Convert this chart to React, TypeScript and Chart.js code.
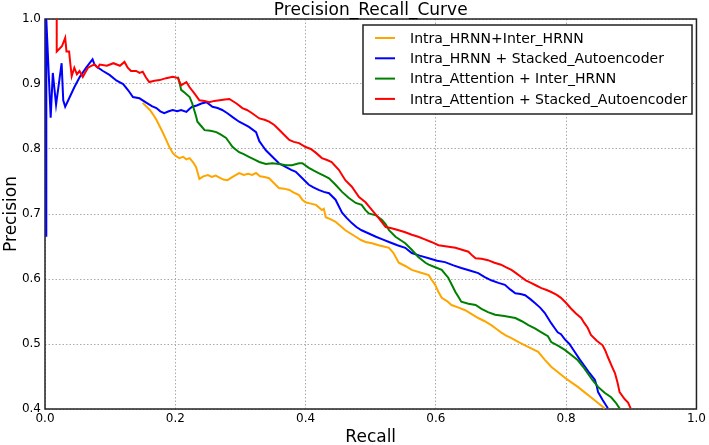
import React, { useEffect, useRef } from "react";
import { Chart, registerables } from "chart.js";

Chart.register(...registerables);

const seriesLabels = [
  "Intra_HRNN+Inter_HRNN",
  "Intra_HRNN + Stacked_Autoencoder",
  "Intra_Attention + Inter_HRNN",
  "Intra_Attention + Stacked_Autoencoder",
];
const seriesColors = ["#FFA500", "#0000FF", "#008000", "#FF0000"];

const xTicks = [0.0, 0.2, 0.4, 0.6, 0.8, 1.0];
const yTicks = [0.4, 0.5, 0.6, 0.7, 0.8, 0.9, 1.0];

// Intra_HRNN+Inter_HRNN (orange)
const recallOrange = [0.15,0.155,0.161,0.166,0.171,0.176,0.181,0.186,0.191,0.196,0.2,0.206,0.212,0.217,0.222,0.227,0.232,0.237,0.243,0.25,0.256,0.262,0.268,0.274,0.28,0.288,0.298,0.305,0.312,0.318,0.324,0.33,0.337,0.344,0.352,0.359,0.367,0.375,0.382,0.39,0.395,0.4,0.408,0.416,0.425,0.428,0.431,0.438,0.446,0.454,0.461,0.469,0.477,0.485,0.492,0.502,0.512,0.52,0.528,0.535,0.543,0.553,0.563,0.576,0.589,0.594,0.599,0.604,0.609,0.617,0.624,0.635,0.645,0.655,0.665,0.675,0.685,0.693,0.7,0.708,0.716,0.727,0.737,0.747,0.757,0.767,0.777,0.788,0.798,0.808,0.818,0.828,0.838,0.848,0.859];
const precisionOrange = [0.871,0.866,0.86,0.853,0.845,0.835,0.825,0.814,0.803,0.794,0.79,0.786,0.788,0.784,0.786,0.78,0.772,0.754,0.758,0.76,0.757,0.759,0.756,0.753,0.752,0.757,0.763,0.76,0.762,0.76,0.763,0.758,0.757,0.755,0.747,0.74,0.739,0.737,0.733,0.729,0.722,0.718,0.716,0.714,0.706,0.708,0.695,0.692,0.688,0.681,0.675,0.67,0.665,0.66,0.657,0.655,0.652,0.65,0.648,0.64,0.625,0.62,0.614,0.61,0.606,0.598,0.591,0.58,0.571,0.566,0.56,0.556,0.552,0.546,0.54,0.535,0.529,0.523,0.518,0.513,0.509,0.503,0.498,0.493,0.488,0.476,0.465,0.456,0.448,0.441,0.434,0.426,0.418,0.41,0.401];

// Intra_HRNN + Stacked_Autoencoder (blue)
const recallBlue = [0.002,0.002,0.0087,0.012,0.017,0.0255,0.028,0.031,0.038,0.045,0.0535,0.063,0.073,0.076,0.079,0.089,0.099,0.11,0.12,0.128,0.135,0.145,0.156,0.164,0.171,0.177,0.183,0.19,0.196,0.203,0.209,0.217,0.222,0.226,0.233,0.24,0.248,0.257,0.265,0.272,0.28,0.288,0.298,0.306,0.313,0.324,0.329,0.334,0.339,0.349,0.359,0.37,0.378,0.385,0.395,0.405,0.412,0.42,0.428,0.436,0.446,0.451,0.456,0.463,0.471,0.478,0.486,0.497,0.508,0.518,0.528,0.541,0.553,0.563,0.575,0.589,0.602,0.614,0.627,0.639,0.652,0.665,0.675,0.685,0.696,0.706,0.714,0.722,0.73,0.737,0.745,0.752,0.76,0.767,0.772,0.777,0.782,0.787,0.792,0.798,0.805,0.813,0.821,0.829,0.836,0.844,0.847,0.849,0.856,0.864];
const precisionBlue = [0.665,1.0,0.848,0.917,0.868,0.932,0.875,0.865,0.88,0.895,0.911,0.925,0.938,0.93,0.927,0.92,0.914,0.905,0.9,0.89,0.88,0.878,0.871,0.866,0.863,0.858,0.855,0.858,0.86,0.858,0.86,0.857,0.862,0.865,0.867,0.87,0.872,0.865,0.863,0.86,0.855,0.849,0.842,0.838,0.834,0.826,0.812,0.805,0.798,0.788,0.778,0.772,0.768,0.765,0.755,0.745,0.741,0.737,0.734,0.732,0.722,0.712,0.702,0.694,0.686,0.68,0.675,0.67,0.665,0.661,0.657,0.652,0.648,0.64,0.636,0.632,0.628,0.626,0.621,0.617,0.613,0.609,0.603,0.598,0.594,0.591,0.584,0.578,0.577,0.575,0.569,0.563,0.556,0.548,0.54,0.532,0.525,0.518,0.515,0.507,0.5,0.488,0.476,0.465,0.455,0.445,0.435,0.426,0.414,0.401];

// Intra_Attention + Inter_HRNN (green)
const recallGreen = [0.204,0.207,0.209,0.215,0.222,0.226,0.229,0.232,0.234,0.24,0.245,0.254,0.263,0.27,0.278,0.283,0.288,0.298,0.305,0.313,0.321,0.329,0.339,0.349,0.359,0.37,0.379,0.39,0.395,0.405,0.412,0.42,0.428,0.436,0.446,0.456,0.466,0.477,0.486,0.492,0.497,0.508,0.517,0.523,0.528,0.538,0.553,0.563,0.573,0.584,0.589,0.599,0.609,0.614,0.619,0.625,0.63,0.635,0.639,0.65,0.661,0.67,0.68,0.691,0.705,0.722,0.732,0.742,0.752,0.762,0.772,0.777,0.788,0.798,0.808,0.818,0.826,0.833,0.84,0.849,0.859,0.869,0.876,0.882];
const precisionGreen = [0.911,0.9,0.891,0.886,0.88,0.87,0.86,0.85,0.842,0.835,0.829,0.828,0.826,0.822,0.817,0.81,0.803,0.795,0.792,0.788,0.784,0.78,0.777,0.778,0.777,0.775,0.775,0.778,0.778,0.771,0.767,0.763,0.759,0.755,0.745,0.734,0.725,0.717,0.714,0.706,0.701,0.698,0.691,0.684,0.675,0.665,0.655,0.645,0.634,0.625,0.622,0.618,0.614,0.608,0.602,0.59,0.58,0.572,0.565,0.562,0.56,0.554,0.549,0.545,0.543,0.54,0.535,0.529,0.524,0.518,0.512,0.503,0.497,0.491,0.483,0.475,0.465,0.455,0.445,0.434,0.425,0.418,0.41,0.401];

// Intra_Attention + Stacked_Autoencoder (red)
const recallRed = [0.018,0.018,0.026,0.031,0.033,0.037,0.039,0.041,0.045,0.049,0.053,0.058,0.062,0.066,0.071,0.076,0.081,0.084,0.095,0.105,0.115,0.122,0.127,0.132,0.14,0.145,0.15,0.155,0.16,0.168,0.176,0.186,0.196,0.204,0.209,0.217,0.222,0.229,0.237,0.245,0.252,0.26,0.268,0.276,0.283,0.294,0.303,0.31,0.318,0.329,0.337,0.344,0.352,0.359,0.367,0.375,0.382,0.39,0.4,0.408,0.416,0.425,0.433,0.44,0.451,0.461,0.471,0.482,0.492,0.502,0.512,0.523,0.532,0.543,0.553,0.563,0.573,0.583,0.593,0.604,0.617,0.63,0.64,0.65,0.656,0.661,0.67,0.68,0.69,0.7,0.708,0.716,0.723,0.731,0.738,0.746,0.754,0.762,0.77,0.777,0.785,0.792,0.8,0.807,0.815,0.823,0.828,0.833,0.838,0.847,0.856,0.86,0.864,0.87,0.875,0.879,0.882,0.89,0.895,0.899];
const precisionRed = [1.0,0.95,0.958,0.971,0.95,0.95,0.93,0.912,0.925,0.915,0.92,0.911,0.918,0.925,0.928,0.93,0.925,0.93,0.928,0.932,0.928,0.934,0.925,0.92,0.92,0.917,0.919,0.91,0.903,0.905,0.906,0.909,0.911,0.909,0.898,0.903,0.895,0.886,0.875,0.874,0.872,0.874,0.875,0.876,0.877,0.87,0.863,0.86,0.855,0.847,0.845,0.842,0.837,0.83,0.822,0.814,0.811,0.809,0.803,0.8,0.794,0.786,0.783,0.78,0.768,0.752,0.742,0.726,0.718,0.706,0.694,0.68,0.678,0.675,0.672,0.668,0.665,0.661,0.657,0.652,0.65,0.648,0.645,0.642,0.636,0.632,0.631,0.629,0.625,0.622,0.618,0.614,0.609,0.603,0.598,0.594,0.59,0.586,0.583,0.58,0.576,0.571,0.563,0.555,0.547,0.54,0.532,0.525,0.514,0.505,0.498,0.49,0.48,0.466,0.455,0.44,0.426,0.415,0.41,0.401];

const recalls = [recallOrange, recallBlue, recallGreen, recallRed];
const precisions = [precisionOrange, precisionBlue, precisionGreen, precisionRed];

const FONT = "'DejaVu Sans', sans-serif";

const decorPlugin = {
  id: "decor",
  beforeDatasetsDraw(chart: any) {
    const { ctx, chartArea: a } = chart;
    ctx.save();
    ctx.strokeStyle = "#222";
    ctx.lineWidth = 1.5;
    ctx.strokeRect(a.left, a.top, a.right - a.left, a.bottom - a.top);
    ctx.restore();
  },
  afterDraw(chart: any) {
    const { ctx, chartArea: a } = chart;
    ctx.save();
    ctx.fillStyle = "#000";
    ctx.font = `17px ${FONT}`;
    ctx.textAlign = "center";
    ctx.textBaseline = "alphabetic";
    ctx.fillText("Precision_Recall_Curve", (a.left + a.right) / 2, 15);
    ctx.fillText("Recall", (a.left + a.right) / 2, 442);
    ctx.save();
    ctx.translate(15.5, (a.top + a.bottom) / 2);
    ctx.rotate(-Math.PI / 2);
    ctx.fillText("Precision", 0, 0);
    ctx.restore();
    const lx = 363, ly = 25, lw = 329, lh = 89;
    ctx.fillStyle = "#fff";
    ctx.fillRect(lx, ly, lw, lh);
    ctx.strokeStyle = "#222";
    ctx.lineWidth = 1.5;
    ctx.strokeRect(lx, ly, lw, lh);
    ctx.font = `14px ${FONT}`;
    ctx.textAlign = "left";
    ctx.textBaseline = "middle";
    seriesLabels.forEach((lab, i) => {
      const y = 38 + i * 20.3;
      ctx.strokeStyle = seriesColors[i];
      ctx.lineWidth = 2;
      ctx.beginPath();
      ctx.moveTo(375, y);
      ctx.lineTo(395, y);
      ctx.stroke();
      ctx.fillStyle = "#000";
      ctx.fillText(lab, 410, y + 1);
    });
    ctx.restore();
  },
};

export default function App() {
  const ref = useRef<HTMLCanvasElement | null>(null);
  useEffect(() => {
    if (!ref.current) return;
    const datasets = seriesLabels.map((label, i) => ({
      label,
      data: recalls[i].map((x, j) => ({ x, y: precisions[i][j] })),
      borderColor: seriesColors[i],
      backgroundColor: seriesColors[i],
      borderWidth: 2,
      pointRadius: 0,
      fill: false,
      tension: 0,
      order: 4 - i,
    }));
    const chart = new Chart(ref.current, {
      type: "line",
      data: { datasets },
      plugins: [decorPlugin],
      options: {
        animation: false,
        responsive: false,
        devicePixelRatio: 1,
        parsing: false,
        layout: { padding: { top: 19, right: 10, left: 0, bottom: 0 } },
        plugins: { legend: { display: false }, tooltip: { enabled: false }, title: { display: false } },
        scales: {
          x: {
            type: "linear",
            min: 0,
            max: 1,
            afterBuildTicks: (s: any) => { s.ticks = xTicks.map((v) => ({ value: v })); },
            afterFit: (s: any) => { s.height = 36; },
            ticks: {
              font: { family: FONT, size: 12 },
              color: "#000",
              padding: 3,
              maxRotation: 0,
              autoSkip: false,
              callback: (v: any) => Number(v).toFixed(1),
            },
            grid: { color: "#aaa", lineWidth: 1, drawTicks: false },
            border: { display: false, dash: [1.5, 2] },
          },
          y: {
            type: "linear",
            min: 0.4,
            max: 1.0,
            afterBuildTicks: (s: any) => { s.ticks = yTicks.map((v) => ({ value: v })); },
            afterFit: (s: any) => { s.width = 45; },
            ticks: {
              font: { family: FONT, size: 12 },
              color: "#000",
              padding: 4,
              autoSkip: false,
              callback: (v: any) => Number(v).toFixed(1),
            },
            grid: { color: "#aaa", lineWidth: 1, drawTicks: false },
            border: { display: false, dash: [1.5, 2] },
          },
        },
      },
    });
    return () => chart.destroy();
  }, []);
  return (
    <div style={{ position: "absolute", left: 0, top: 0, width: 709, height: 445, background: "#fff" }}>
      <canvas ref={ref} width={709} height={445} style={{ width: 709, height: 445 }} />
    </div>
  );
}
